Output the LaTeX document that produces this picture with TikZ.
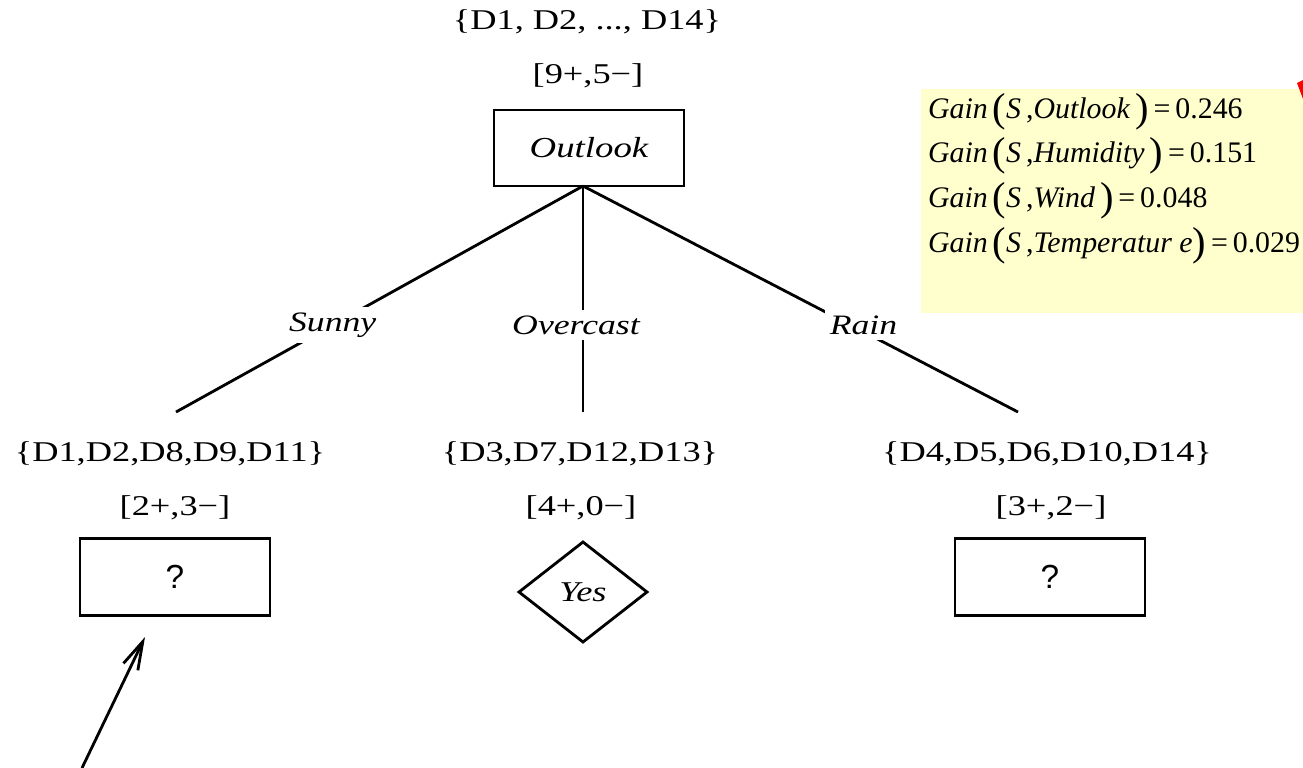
\documentclass[tikz,border=0pt]{standalone}
\usepackage{fontspec}
\setmainfont{Liberation Serif}
\newfontfamily\treefont{Liberation Serif}[FakeStretch=1.27]
\newfontfamily\gainfont{Liberation Serif}
\newfontfamily\qfont{Liberation Sans}
\usetikzlibrary{shapes.geometric,arrows.meta}
\newcommand{\bigpar}[1]{{\fontsize{23}{23}\selectfont\raisebox{-1.8pt}{#1}}}
\definecolor{notebg}{RGB}{255,255,206}

\begin{document}
\begin{tikzpicture}[x=0.02cm,y=-0.02cm,
  every node/.style={inner sep=0pt,outer sep=0pt},
  settext/.style={font=\treefont\fontsize{16.3}{19}\selectfont},
  attrbox/.style={draw,line width=1.6pt,minimum width=3.8cm,minimum height=1.52cm,
    font=\treefont\itshape\fontsize{16.5}{19}\selectfont},
  leafbox/.style={draw,line width=1.6pt,minimum width=3.8cm,minimum height=1.54cm,
    font=\qfont\fontsize{19}{21}\selectfont},
  leafdiamond/.style={draw,diamond,line width=1.6pt,minimum width=2.56cm,minimum height=2cm,
    font=\treefont\itshape\fontsize{16.3}{19}\selectfont},
  branch/.style={line width=1.6pt},
  branchlabel/.style={fill=white,inner sep=3pt,font=\treefont\itshape\fontsize{16}{19}\selectfont},
  gainline/.style={anchor=base west,font=\gainfont\fontsize{17}{20}\selectfont},
]
\useasboundingbox (0,0) rectangle (1303,768);

% information-gain note
\fill[notebg] (921,89) rectangle (1303,313);
\fill[red] (1297,83) -- (1303,80) -- (1303,99) -- cycle;
\node[gainline] (g1) at (928,118) {\textit{Gain}\,\bigpar{(}\textit{S}\,,\textit{Outlook}\,\bigpar{)}\,=\,0.246};
\node[gainline] (g2) at (928,162) {\textit{Gain}\,\bigpar{(}\textit{S}\,,\textit{Humidity}\,\bigpar{)}\,=\,0.151};
\node[gainline] (g3) at (928,207) {\textit{Gain}\,\bigpar{(}\textit{S}\,,\textit{Wind}\,\bigpar{)}\,=\,0.048};
\node[gainline] (g4) at (928,252) {\textit{Gain}\,\bigpar{(}\textit{S}\,,\textit{Temperatur e}\bigpar{)}\,=\,0.029};

% root
\node[settext] (rootset) at (587,22) {\{D1, D2, ..., D14\}};
\node[settext] (rootcnt) at (588,76) {[9+,5−]};
\node[attrbox] (outlook) at (589,148) {Outlook};
\coordinate (apex) at (583,186);

% branch ends
\coordinate (sunnyend) at (176,412);
\coordinate (overend) at (583,412);
\coordinate (rainend) at (1018,412);

\draw[branch] (apex) -- (sunnyend) node[branchlabel,pos=0.615] (lsunny) {Sunny};
\draw[branch] (apex) -- (overend) node[branchlabel,pos=0.615,xshift=-0.14cm] (lover) {Overcast};
\draw[branch] (apex) -- (rainend) node[branchlabel,pos=0.615,xshift=0.26cm] (lrain) {Rain};

% children
\node[settext] (sunnyset) at (170,454) {\{D1,D2,D8,D9,D11\}};
\node[settext] (overset) at (580,454) {\{D3,D7,D12,D13\}};
\node[settext] (rainset) at (1047,454) {\{D4,D5,D6,D10,D14\}};
\node[settext] (sunnycnt) at (175,508) {[2+,3−]};
\node[settext] (overcnt) at (581,508) {[4+,0−]};
\node[settext] (raincnt) at (1051,508) {[3+,2−]};

\node[leafbox] (sunnyq) at (175,577) {?};
\node[leafdiamond] (yes) at (583,592) {Yes};
\node[leafbox] (rainq) at (1050,577) {?};

% pointer to the open subtree
\coordinate (ptail) at (82,768);
\coordinate (phead) at (145,637);
\draw[line width=1.6pt,-{Straight Barb[length=5.6mm,width=3.2mm,line width=1.6pt]}] (ptail) -- (phead);
\end{tikzpicture}
\end{document}
